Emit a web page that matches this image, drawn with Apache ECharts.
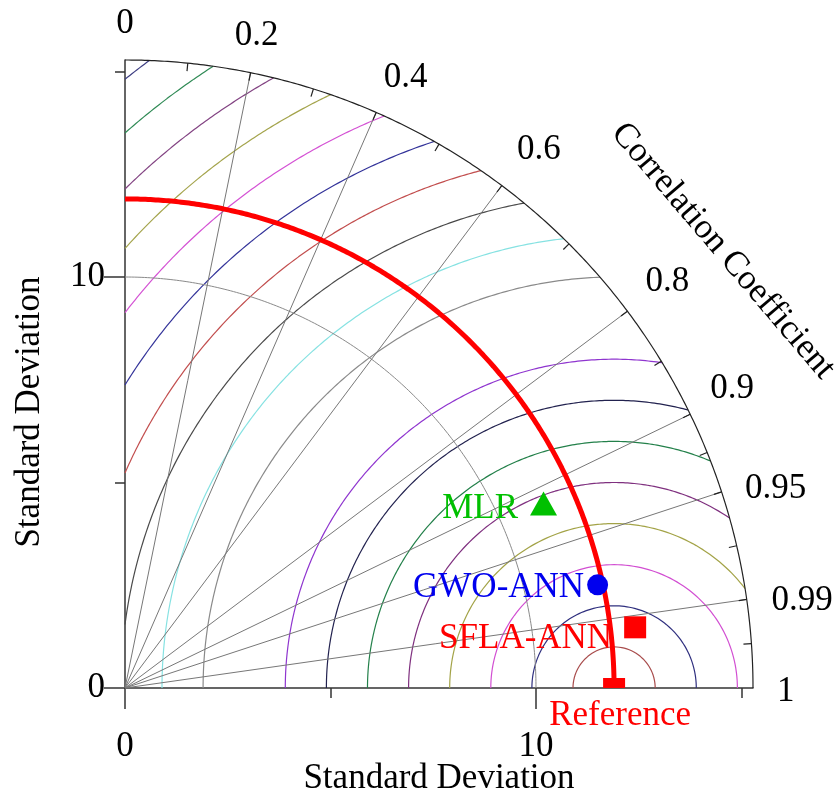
<!DOCTYPE html>
<html><head><meta charset="utf-8">
<script src="https://cdn.jsdelivr.net/npm/echarts@6/dist/echarts.min.js"></script>
<style>html,body{margin:0;padding:0;background:#fff}#c{width:835px;height:800px}</style>
</head><body><div id="c"></div>
<script>
// ---- data ----
const modelNames  = ['Reference', 'SFLA-ANN', 'GWO-ANN', 'MLR'];
const modelStd    = [11.9, 12.50, 11.77, 11.13];
const modelCorr   = [1.0, 0.993, 0.977, 0.915];
const modelColors = ['#ff0000', '#ff0000', '#0000ee', '#00c000'];
const modelSymbols= ['rect', 'rect', 'circle', 'triangle'];
const corrLabels  = [0, 0.2, 0.4, 0.6, 0.8, 0.9, 0.95, 0.99, 1];
const corrLines   = [0.2, 0.4, 0.6, 0.8, 0.9, 0.95, 0.99];
const corrMinor   = [0.1, 0.3, 0.5, 0.707, 0.854, 0.927, 0.974, 0.9975];
const rmsLevels   = [1, 2, 3, 4, 5, 6, 7, 8, 10, 11, 12, 13, 14, 15, 16, 17, 18, 19];
const rmsColors   = ['#a84c4c', '#30307f', '#d24fd2', '#a3a347', '#7f307f', '#23804a', '#22224f', '#8f35cf',
                     '#8a8a8a', '#86e2e2', '#4a4a4a', '#c24e4e', '#34349a', '#d452d4', '#a4a44c', '#834483', '#2f8a55', '#3d3d82'];
const stdMajor    = [0, 10];
const stdMinor    = [5, 15];
const stdArcs     = [10];
const RMAX = 15.28;

const FONT = '"Liberation Serif", "Times New Roman", serif';
const FS = 35;
const REF = modelStd[0];

// grid geometry
const G = {left: 125, top: 60, size: 628};
const ox = G.left, oy = G.top + G.size, k = G.size / RMAX;

// small text nudges for the correlation labels [dx, dy] (pixels)
const corrLabelNudge = [[0, 0], [-2, 2], [12, 5], [9, 2], [1, 0], [-2, -4], [0, 15], [0, 9], [0, 4]];

function arc(cx, r, t1, t2, n) {
  const pts = [];
  for (let i = 0; i <= n; i++) {
    const t = t1 + (t2 - t1) * i / n;
    pts.push([cx + r * Math.cos(t), r * Math.sin(t)]);
  }
  return pts;
}
const clamp = (v, a, b) => Math.max(a, Math.min(b, v));
function lineSeries(data, color, width, z) {
  return {type: 'line', data, showSymbol: false, symbol: 'none', silent: true, animation: false,
          clip: false, z: z || 2, lineStyle: {color, width}};
}

const series = [];
// RMS contours centred on the reference point
rmsLevels.forEach((r, i) => {
  const t1 = Math.acos(clamp((RMAX * RMAX - REF * REF - r * r) / (2 * REF * r), -1, 1));
  const t2 = Math.acos(clamp(-REF / r, -1, 1));
  series.push(lineSeries(arc(REF, r, t1, t2, 200), rmsColors[i], 1.2));
});
// std arcs
stdArcs.forEach(s => series.push(lineSeries(arc(0, s, 0, Math.PI / 2, 200), '#8a8a8a', 1)));
// correlation radial lines
corrLines.forEach(c => {
  const s = Math.sqrt(1 - c * c);
  series.push(lineSeries([[0, 0], [RMAX * c, RMAX * s]], '#777777', 1));
});
// outer arc
series.push(lineSeries(arc(0, RMAX, 0, Math.PI / 2, 300), '#222', 1.2, 3));
// ticks on outer arc
corrMinor.concat(corrLines).forEach(c => {
  const s = Math.sqrt(1 - c * c), r0 = RMAX - 8 / k;
  series.push(lineSeries([[r0 * c, r0 * s], [RMAX * c, RMAX * s]], '#222', 1.2, 3));
});
// reference std arc
series.push(lineSeries(arc(0, REF, 0, Math.PI / 2, 300), '#ff0000', 5, 4));

// model points
const labelCfg = [
  {position: 'bottom', distance: 10, offset: [6, 0]},
  {position: 'left', distance: 12, offset: [0, 11]},
  {position: 'left', distance: 3, offset: [0, 3]},
  {position: 'left', distance: 12, offset: [0, 5]}
];
const symSizes = [[22, 10], 22, 21, [27, 24]];
const symOffsets = [[0, -5], [0, 0], [0, 0], [0, 0]];
modelNames.forEach((n, i) => {
  const c = modelCorr[i], s = modelStd[i];
  series.push({
    type: 'scatter', name: n, z: 10, animation: false,
    symbol: modelSymbols[i], symbolSize: symSizes[i], symbolOffset: symOffsets[i],
    itemStyle: {color: modelColors[i], opacity: 1},
    data: [[s * c, s * Math.sqrt(Math.max(0, 1 - c * c))]],
    label: {show: true, formatter: n, color: modelColors[i], fontFamily: FONT, fontSize: FS,
            position: labelCfg[i].position, distance: labelCfg[i].distance, offset: labelCfg[i].offset}
  });
});

// correlation labels (graphic text placed by angle)
const ctx = document.createElement('canvas').getContext('2d');
ctx.font = FS + 'px ' + FONT;
const graphics = [];
corrLabels.forEach((c, i) => {
  const txt = String(c);
  const th = Math.acos(c);
  const w = ctx.measureText(txt).width, h = 24;
  const proj = w / 2 * Math.cos(th) + h / 2 * Math.sin(th);
  const rho = G.size + 24 + proj;
  graphics.push({type: 'text', x: ox + rho * Math.cos(th) + corrLabelNudge[i][0],
    y: oy - rho * Math.sin(th) + corrLabelNudge[i][1], silent: true,
    style: {text: txt, font: FS + 'px ' + FONT, fill: '#000', align: 'center', verticalAlign: 'middle'}});
});
graphics.push({type: 'text', x: ox + 598, y: oy - 437, rotation: -49.5 * Math.PI / 180, silent: true,
  style: {text: 'Correlation Coefficient', font: FS + 'px ' + FONT, fill: '#000', align: 'center', verticalAlign: 'middle'}});
graphics.push({type: 'text', x: 30, y: 412, rotation: Math.PI / 2, silent: true,
  style: {text: 'Standard Deviation', font: FS + 'px ' + FONT, fill: '#000', align: 'center', verticalAlign: 'middle'}});

const axisCommon = {type: 'value', min: 0, max: RMAX, interval: 10, splitLine: {show: false}};
const option = {
  animation: false,
  backgroundColor: '#fff',
  textStyle: {fontFamily: FONT},
  grid: {left: G.left, top: G.top, width: G.size, height: G.size, containLabel: false, outerBoundsMode: 'none'},
  xAxis: [
    Object.assign({}, axisCommon, {
      position: 'bottom',
      axisLine: {show: true, lineStyle: {color: '#333', width: 1.5}},
      axisTick: {show: true, customValues: stdMajor, length: 21, lineStyle: {color: '#333', width: 1.5}},
      axisLabel: {show: true, customValues: stdMajor, margin: 41, fontSize: FS, fontFamily: FONT, color: '#000'},
      name: 'Standard Deviation', nameLocation: 'middle', nameGap: 73, nameMoveOverlap: false,
      nameTextStyle: {fontSize: FS, fontFamily: FONT, color: '#000'}
    }),
    Object.assign({}, axisCommon, {
      position: 'bottom',
      axisLine: {show: false},
      axisTick: {show: true, customValues: stdMinor, length: 10, lineStyle: {color: '#333', width: 1.5}},
      axisLabel: {show: false}
    })
  ],
  yAxis: [
    Object.assign({}, axisCommon, {
      position: 'left',
      axisLine: {show: true, lineStyle: {color: '#333', width: 1.5}},
      axisTick: {show: true, customValues: stdMajor, length: 21, lineStyle: {color: '#333', width: 1.5}},
      axisLabel: {show: true, customValues: stdMajor, margin: 20, fontSize: FS, fontFamily: FONT, color: '#000'}
    }),
    Object.assign({}, axisCommon, {
      position: 'left',
      axisLine: {show: false},
      axisTick: {show: true, customValues: stdMinor, length: 10, lineStyle: {color: '#333', width: 1.5}},
      axisLabel: {show: false}
    })
  ],
  graphic: graphics,
  series
};
const chart = echarts.init(document.getElementById('c'), null, {renderer: 'canvas'});
chart.setOption(option);
</script>
</body></html>
